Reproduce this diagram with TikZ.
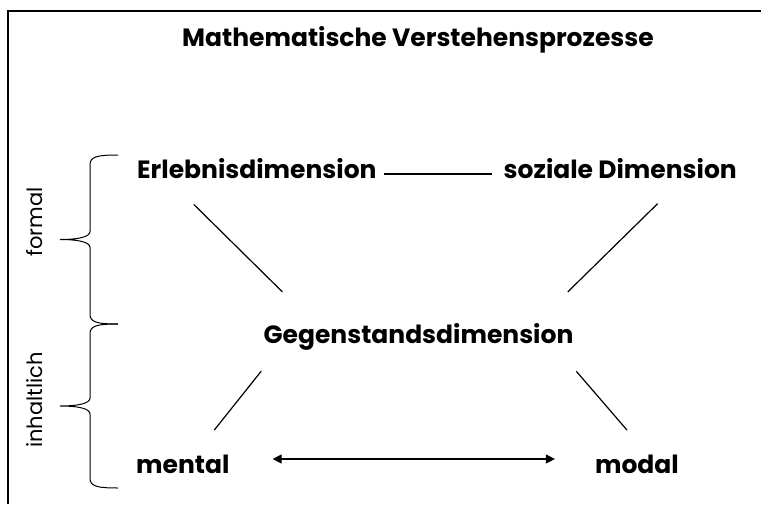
\documentclass[tikz,border=0pt]{standalone}
\usepackage{fontspec}
\setmainfont{Poppins}
\usepackage{tikz}
\usetikzlibrary{calc,arrows.meta}

\begin{document}
\begin{tikzpicture}[x=1pt, y=-1pt,
		dim/.style = {inner sep=0pt, font=\bfseries\fontsize{25}{28}\selectfont},
		seite/.style = {inner sep=0pt, rotate=90, font=\fontsize{21}{24}\selectfont},
		verb/.style = {line width=1.2pt}]
				\useasboundingbox (0,0) rectangle (761,504);
				% Rahmen (rechts und unten abgeschnitten)
				\draw[line width=1.8pt] (8,504) |- (761,11);
				\node[dim, anchor=base] (titel) at (418,46) {Mathematische Verstehensprozesse};
				\node[dim, anchor=base west] (erl) at (137,178) {Erlebnisdimension};
				\node[dim, anchor=base east] (soz) at (737,178) {soziale Dimension};
				\node[dim, anchor=base] (geg) at (418.5,343) {Gegenstandsdimension};
				\node[dim, anchor=base west] (mental) at (136,473) {mental};
				\node[dim, anchor=base east] (modal) at (679,473) {modal};
				\node[seite] (formal) at (35,222) {formal};
				\node[seite] (inhalt) at (35,400) {inhaltlich};
				% Klammern
				\foreach \ya/\yb in {155/324, 324/488} {
					\draw[line width=1pt] (118,\ya) .. controls (96,\ya) and (90,\ya+2) .. (90,\ya+10)
						-- (90,{(\ya+\yb)/2-8}) .. controls (90,{(\ya+\yb)/2-3}) and (80,{(\ya+\yb)/2}) .. (60,{(\ya+\yb)/2})
						.. controls (80,{(\ya+\yb)/2}) and (90,{(\ya+\yb)/2+3}) .. (90,{(\ya+\yb)/2+8})
						-- (90,\yb-10) .. controls (90,\yb-2) and (96,\yb) .. (118,\yb);
				}
				\draw[verb, shorten <=7pt, shorten >=12pt] ([yshift=4pt]erl.base east) -- ([yshift=4pt]soz.base west);
				\draw[verb, shorten <=37pt, shorten >=44pt] ($(erl.south west)!.127!(erl.south east)$) -- ($(geg.north west)!.162!(geg.north east)$);
				\draw[verb, shorten <=36pt, shorten >=44pt] ($(soz.south west)!.77!(soz.south east)$) -- ($(geg.north west)!.88!(geg.north east)$);
				\draw[verb, shorten <=27pt, shorten >=31pt] ($(geg.south west)!.047!(geg.south east)$) -- ($(mental.north west)!.63!(mental.north east)$);
				\draw[verb, shorten <=28pt, shorten >=32pt] ($(geg.south west)!.95!(geg.south east)$) -- ($(modal.north west)!.63!(modal.north east)$);
				\draw[verb, {Triangle[length=9pt, width=9pt]}-{Triangle[length=9pt, width=9pt]}, shorten <=43pt, shorten >=40pt] ([yshift=14pt]mental.base east) -- ([yshift=14pt]modal.base west);
			\end{tikzpicture}
\end{document}
